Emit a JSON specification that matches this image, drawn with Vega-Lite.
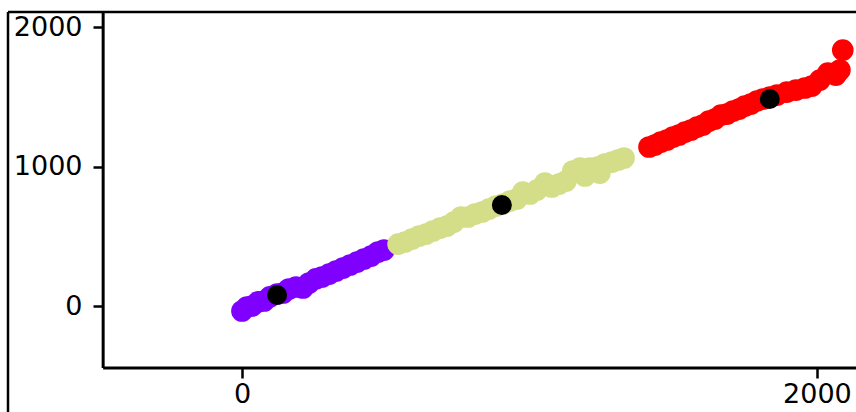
{
  "$schema": "https://vega.github.io/schema/vega-lite/v6.json",
  "width": 848,
  "height": 400,
  "autosize": {"type": "none"},
  "padding": {"left": 8, "top": 12, "right": 0, "bottom": 0},
  "background": "white",
  "config": {
    "view": {"stroke": null},
    "axis": {
      "domain": false,
      "grid": false,
      "ticks": true,
      "tickColor": "#000000",
      "tickWidth": 2.5,
      "tickSize": 10,
      "labelFont": "DejaVu Sans",
      "labelFontSize": 27,
      "labelColor": "#000000",
      "format": "d",
      "title": null
    }
  },
  "datasets": {
    "pts": [
      {"x": 0, "y": -36, "cluster": "a"},
      {"x": 17, "y": -7, "cluster": "a"},
      {"x": 35, "y": 0, "cluster": "a"},
      {"x": 56, "y": 29, "cluster": "a"},
      {"x": 77, "y": 36, "cluster": "a"},
      {"x": 97, "y": 65, "cluster": "a"},
      {"x": 122, "y": 86, "cluster": "a"},
      {"x": 143, "y": 93, "cluster": "a"},
      {"x": 163, "y": 122, "cluster": "a"},
      {"x": 188, "y": 136, "cluster": "a"},
      {"x": 212, "y": 129, "cluster": "a"},
      {"x": 233, "y": 165, "cluster": "a"},
      {"x": 257, "y": 194, "cluster": "a"},
      {"x": 278, "y": 208, "cluster": "a"},
      {"x": 303, "y": 229, "cluster": "a"},
      {"x": 327, "y": 251, "cluster": "a"},
      {"x": 351, "y": 272, "cluster": "a"},
      {"x": 376, "y": 294, "cluster": "a"},
      {"x": 400, "y": 315, "cluster": "a"},
      {"x": 424, "y": 337, "cluster": "a"},
      {"x": 449, "y": 358, "cluster": "a"},
      {"x": 473, "y": 387, "cluster": "a"},
      {"x": 494, "y": 401, "cluster": "a"},
      {"x": 543, "y": 444, "cluster": "b"},
      {"x": 567, "y": 459, "cluster": "b"},
      {"x": 591, "y": 480, "cluster": "b"},
      {"x": 616, "y": 502, "cluster": "b"},
      {"x": 640, "y": 516, "cluster": "b"},
      {"x": 664, "y": 538, "cluster": "b"},
      {"x": 689, "y": 559, "cluster": "b"},
      {"x": 713, "y": 573, "cluster": "b"},
      {"x": 737, "y": 602, "cluster": "b"},
      {"x": 762, "y": 638, "cluster": "b"},
      {"x": 786, "y": 638, "cluster": "b"},
      {"x": 810, "y": 659, "cluster": "b"},
      {"x": 835, "y": 674, "cluster": "b"},
      {"x": 859, "y": 695, "cluster": "b"},
      {"x": 883, "y": 717, "cluster": "b"},
      {"x": 908, "y": 731, "cluster": "b"},
      {"x": 932, "y": 753, "cluster": "b"},
      {"x": 956, "y": 767, "cluster": "b"},
      {"x": 977, "y": 817, "cluster": "b"},
      {"x": 1002, "y": 803, "cluster": "b"},
      {"x": 1026, "y": 831, "cluster": "b"},
      {"x": 1054, "y": 882, "cluster": "b"},
      {"x": 1078, "y": 853, "cluster": "b"},
      {"x": 1103, "y": 874, "cluster": "b"},
      {"x": 1127, "y": 896, "cluster": "b"},
      {"x": 1151, "y": 968, "cluster": "b"},
      {"x": 1176, "y": 989, "cluster": "b"},
      {"x": 1193, "y": 932, "cluster": "b"},
      {"x": 1210, "y": 989, "cluster": "b"},
      {"x": 1238, "y": 996, "cluster": "b"},
      {"x": 1245, "y": 953, "cluster": "b"},
      {"x": 1262, "y": 1018, "cluster": "b"},
      {"x": 1287, "y": 1032, "cluster": "b"},
      {"x": 1308, "y": 1047, "cluster": "b"},
      {"x": 1329, "y": 1061, "cluster": "b"},
      {"x": 1416, "y": 1140, "cluster": "c"},
      {"x": 1436, "y": 1154, "cluster": "c"},
      {"x": 1457, "y": 1176, "cluster": "c"},
      {"x": 1478, "y": 1190, "cluster": "c"},
      {"x": 1499, "y": 1211, "cluster": "c"},
      {"x": 1520, "y": 1226, "cluster": "c"},
      {"x": 1541, "y": 1247, "cluster": "c"},
      {"x": 1562, "y": 1262, "cluster": "c"},
      {"x": 1583, "y": 1283, "cluster": "c"},
      {"x": 1603, "y": 1297, "cluster": "c"},
      {"x": 1624, "y": 1326, "cluster": "c"},
      {"x": 1645, "y": 1340, "cluster": "c"},
      {"x": 1666, "y": 1369, "cluster": "c"},
      {"x": 1687, "y": 1376, "cluster": "c"},
      {"x": 1708, "y": 1398, "cluster": "c"},
      {"x": 1729, "y": 1412, "cluster": "c"},
      {"x": 1749, "y": 1434, "cluster": "c"},
      {"x": 1770, "y": 1448, "cluster": "c"},
      {"x": 1791, "y": 1469, "cluster": "c"},
      {"x": 1812, "y": 1484, "cluster": "c"},
      {"x": 1836, "y": 1498, "cluster": "c"},
      {"x": 1861, "y": 1512, "cluster": "c"},
      {"x": 1895, "y": 1534, "cluster": "c"},
      {"x": 1927, "y": 1548, "cluster": "c"},
      {"x": 1958, "y": 1563, "cluster": "c"},
      {"x": 1982, "y": 1577, "cluster": "c"},
      {"x": 2010, "y": 1620, "cluster": "c"},
      {"x": 2038, "y": 1670, "cluster": "c"},
      {"x": 2066, "y": 1656, "cluster": "c"},
      {"x": 2080, "y": 1692, "cluster": "c"},
      {"x": 2090, "y": 1835, "cluster": "c"}
    ],
    "ctr": [
      {"x": 122, "y": 79},
      {"x": 904, "y": 724},
      {"x": 1836, "y": 1484}
    ],
    "one": [{}]
  },
  "layer": [
    {
      "data": {"name": "pts"},
      "mark": {"type": "circle", "opacity": 1, "size": 470},
      "encoding": {
        "x": {"field": "x", "type": "quantitative", "scale": {"domain": [-814, 2136], "nice": false, "zero": false},
              "axis": {"orient": "bottom", "offset": -44, "values": [0, 2000], "labelPadding": 3}},
        "y": {"field": "y", "type": "quantitative", "scale": {"domain": [-760, 2108], "nice": false, "zero": false},
              "axis": {"orient": "left", "offset": -95, "values": [0, 1000, 2000], "labelPadding": 11}},
        "color": {"field": "cluster", "type": "nominal", "legend": null,
                  "scale": {"domain": ["a", "b", "c"], "range": ["#7f00ff", "#d4dd88", "#ff0000"]}}
      }
    },
    {
      "data": {"name": "ctr"},
      "mark": {"type": "circle", "opacity": 1, "size": 400, "color": "#000000"},
      "encoding": {
        "x": {"field": "x", "type": "quantitative", "scale": {"domain": [-814, 2136], "nice": false, "zero": false}},
        "y": {"field": "y", "type": "quantitative", "scale": {"domain": [-760, 2108], "nice": false, "zero": false}}
      }
    },
    {
      "data": {"name": "one"},
      "mark": {"type": "rule", "color": "#000000", "strokeWidth": 2.5},
      "encoding": {
        "x": {"datum": -814, "type": "quantitative", "scale": {"domain": [-814, 2136], "nice": false, "zero": false}}
      }
    },
    {
      "data": {"name": "one"},
      "mark": {"type": "rule", "color": "#000000", "strokeWidth": 2.5},
      "encoding": {
        "y": {"datum": 2108, "type": "quantitative", "scale": {"domain": [-760, 2108], "nice": false, "zero": false}}
      }
    },
    {
      "data": {"name": "one"},
      "mark": {"type": "rule", "color": "#000000", "strokeWidth": 3},
      "encoding": {
        "x": {"datum": -483, "type": "quantitative", "scale": {"domain": [-814, 2136], "nice": false, "zero": false}},
        "y": {"datum": -444, "type": "quantitative", "scale": {"domain": [-760, 2108], "nice": false, "zero": false}},
        "y2": {"datum": 2108}
      }
    },
    {
      "data": {"name": "one"},
      "mark": {"type": "rule", "color": "#000000", "strokeWidth": 3},
      "encoding": {
        "y": {"datum": -444, "type": "quantitative", "scale": {"domain": [-760, 2108], "nice": false, "zero": false}},
        "x": {"datum": -483, "type": "quantitative", "scale": {"domain": [-814, 2136], "nice": false, "zero": false}},
        "x2": {"datum": 2136}
      }
    }
  ]
}
